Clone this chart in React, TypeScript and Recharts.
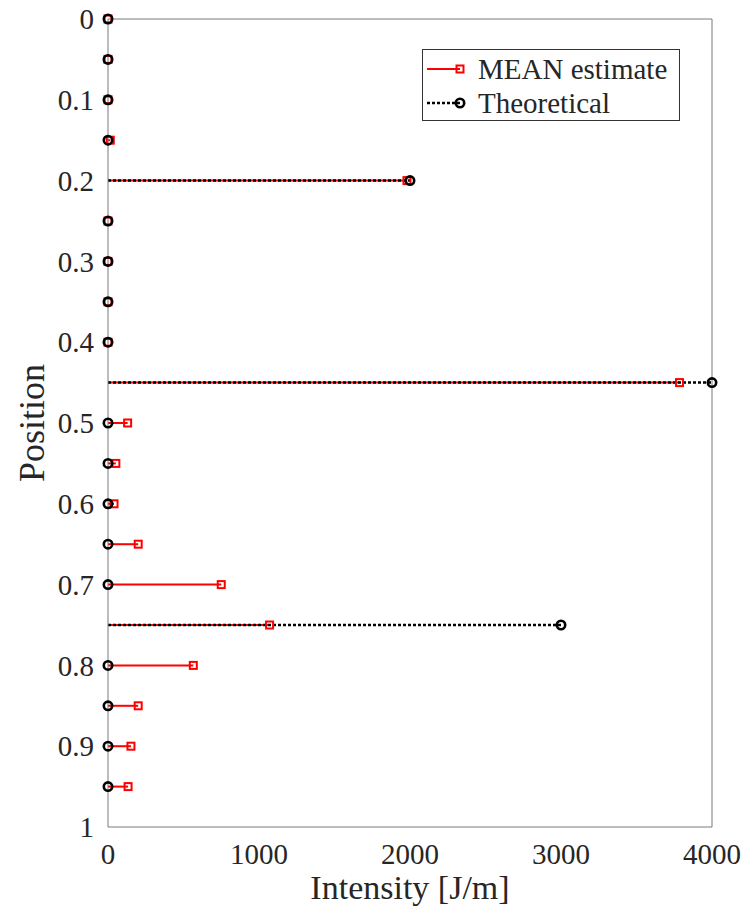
import {
  ComposedChart,
  Legend,
  ReferenceLine,
  Scatter,
  XAxis,
  YAxis,
} from "recharts";

const SERIF = "'Liberation Serif', 'Times New Roman', serif";
const TEXT = "#262626";
const AXIS = "#7a7a7a";
const RED = "#ff0000";

// positions along the member (0 = top)
const positions = [
  0, 0.05, 0.1, 0.15, 0.2, 0.25, 0.3, 0.35, 0.4, 0.45,
  0.5, 0.55, 0.6, 0.65, 0.7, 0.75, 0.8, 0.85, 0.9, 0.95,
];
const meanEstimate = [
  0, 0, 0, 15, 1980, 0, 0, 0, 0, 3785,
  130, 52, 40, 200, 750, 1070, 565, 200, 152, 133,
];
const theoretical = [
  0, 0, 0, 0, 2000, 0, 0, 0, 0, 4000,
  0, 0, 0, 0, 0, 3000, 0, 0, 0, 0,
];
const yTicks = [0, 0.1, 0.2, 0.3, 0.4, 0.5, 0.6, 0.7, 0.8, 0.9, 1];
const xTicks = [0, 1000, 2000, 3000, 4000];

const meanPts = positions.map((p, i) => ({ x: meanEstimate[i], y: p }));
const theoPts = positions.map((p, i) => ({ x: theoretical[i], y: p }));

function SquareMark(props: any) {
  const { cx, cy } = props;
  if (cx == null || cy == null) return null;
  return (
    <rect x={cx - 3.5} y={cy - 3.5} width={7} height={7} fill="none" stroke={RED} strokeWidth={2} />
  );
}

function CircleMark(props: any) {
  const { cx, cy } = props;
  if (cx == null || cy == null) return null;
  return <circle cx={cx} cy={cy} r={4.2} fill="none" stroke="#000" strokeWidth={2.6} />;
}

function LegendBox() {
  return (
    <div
      style={{
        position: "relative",
        width: 258,
        height: 72,
        boxSizing: "border-box",
        border: "1px solid #333",
        background: "#fff",
        fontFamily: SERIF,
        fontSize: 29,
        color: TEXT,
      }}
    >
      <svg width={50} height={72} style={{ position: "absolute", left: 0, top: 0 }}>
        <line x1={4} x2={37} y1={19} y2={19} stroke={RED} strokeWidth={2} />
        <rect x={33.5} y={15.5} width={7} height={7} fill="none" stroke={RED} strokeWidth={2} />
        <line x1={4} x2={37} y1={53} y2={53} stroke="#000" strokeWidth={2.5} strokeDasharray="3 2" />
        <circle cx={37} cy={53} r={4.2} fill="none" stroke="#000" strokeWidth={2.6} />
      </svg>
      <div style={{ position: "absolute", left: 55, top: 19, transform: "translateY(-50%)", lineHeight: 1, whiteSpace: "nowrap" }}>
        MEAN estimate
      </div>
      <div style={{ position: "absolute", left: 55, top: 53, transform: "translateY(-50%)", lineHeight: 1, whiteSpace: "nowrap" }}>
        Theoretical
      </div>
    </div>
  );
}

export default function App() {
  return (
    <div style={{ position: "absolute", left: 0, top: 0, background: "#fff" }}>
      <ComposedChart
        width={746}
        height={915}
        margin={{ top: 19, right: 34, left: 1, bottom: 0 }}
      >
        <XAxis
          type="number"
          dataKey="x"
          domain={[0, 4000]}
          ticks={xTicks}
          height={88}
          stroke={AXIS}
          tickLine={false}
          tickMargin={10}
          tick={{ fontFamily: SERIF, fontSize: 29, fill: TEXT }}
          label={{
            value: "Intensity [J/m]",
            position: "insideBottom",
            offset: 16,
            style: { fontFamily: SERIF, fontSize: 34, fill: TEXT },
          }}
        />
        {/* inward tick marks, MATLAB style box */}
        <XAxis
          xAxisId="bottomTicks"
          orientation="bottom"
          type="number"
          domain={[0, 4000]}
          ticks={xTicks}
          height={1}
          mirror
          axisLine={false}
          stroke={AXIS}
          tickSize={8}
          tick={false}
        />
        <XAxis
          xAxisId="top"
          orientation="top"
          type="number"
          domain={[0, 4000]}
          ticks={xTicks}
          height={1}
          mirror
          stroke={AXIS}
          tickSize={8}
          tick={false}
        />
        <YAxis
          type="number"
          dataKey="y"
          domain={[0, 1]}
          reversed
          ticks={yTicks}
          width={107}
          stroke={AXIS}
          tickLine={false}
          tickMargin={8}
          interval={0}
          tick={{ fontFamily: SERIF, fontSize: 29, fill: TEXT }}
          label={{
            value: "Position",
            angle: -90,
            position: "insideLeft",
            offset: 30,
            style: { fontFamily: SERIF, fontSize: 36, fill: TEXT, textAnchor: "middle" },
          }}
        />
        <YAxis
          yAxisId="leftTicks"
          orientation="left"
          type="number"
          domain={[0, 1]}
          reversed
          ticks={yTicks}
          width={1}
          mirror
          axisLine={false}
          stroke={AXIS}
          tickSize={8}
          interval={0}
          tick={false}
        />
        <YAxis
          yAxisId="right"
          orientation="right"
          type="number"
          domain={[0, 1]}
          reversed
          ticks={yTicks}
          width={1}
          mirror
          stroke={AXIS}
          tickSize={8}
          interval={0}
          tick={false}
        />
        {positions.map((p, i) => (
          <ReferenceLine
            key={`m${i}`}
            segment={[{ x: 0, y: p }, { x: meanEstimate[i], y: p }]}
            stroke={RED}
            strokeWidth={2}
            ifOverflow="visible"
          />
        ))}
        {positions.map((p, i) => (
          <ReferenceLine
            key={`t${i}`}
            segment={[{ x: 0, y: p }, { x: theoretical[i], y: p }]}
            stroke="#000"
            strokeWidth={2.5}
            strokeDasharray="3 2"
            ifOverflow="visible"
          />
        ))}
        <Scatter name="MEAN estimate" data={meanPts} shape={SquareMark} isAnimationActive={false} />
        <Scatter name="Theoretical" data={theoPts} shape={CircleMark} isAnimationActive={false} />
        <Legend
          layout="horizontal"
          align="center"
          verticalAlign="middle"
          content={() => <LegendBox />}
          wrapperStyle={{ top: 49, left: 422, width: 258, height: 72 }}
        />
      </ComposedChart>
    </div>
  );
}
